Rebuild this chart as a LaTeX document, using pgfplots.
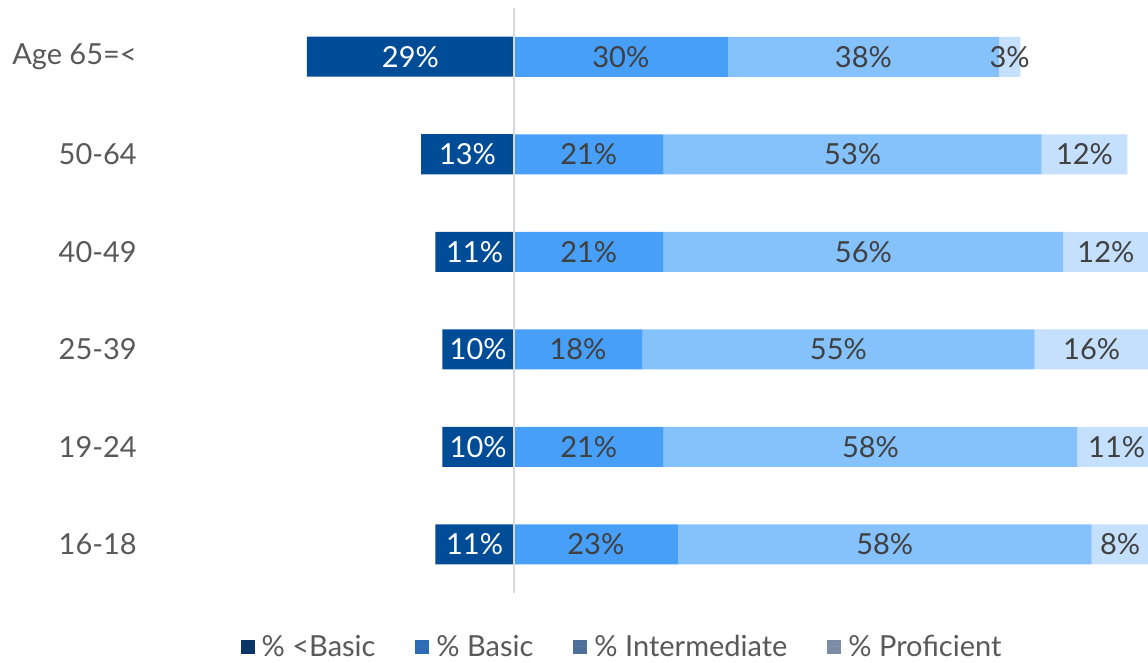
\documentclass[border=0pt]{standalone}
\usepackage{pgfplots}
\pgfplotsset{compat=1.18}
\usepackage{fontspec}
\setmainfont{Lato}
\definecolor{cBelow}{HTML}{004C97}
\definecolor{cBasic}{HTML}{479FF8}
\definecolor{cInt}{HTML}{85C1FA}
\definecolor{cProf}{HTML}{C5E0FC}
\definecolor{legA}{HTML}{0B3566}
\definecolor{legB}{HTML}{2D6CB5}
\definecolor{legC}{HTML}{4C6F9A}
\definecolor{legD}{HTML}{7B8CA4}
\definecolor{lblgray}{HTML}{404040}
\definecolor{tickgray}{HTML}{595959}
\definecolor{zerogray}{HTML}{D9D9D9}
\begin{document}
\begin{tikzpicture}[x=1pt,y=1pt]
\path[use as bounding box] (0,0) rectangle (1148,662);
\pgfplotsset{common/.style={at={(150pt,69pt)}, anchor=south west, scale only axis,
  width=998pt, height=585pt, xmin=-51, xmax=88.9, ymin=-0.5, ymax=5.5}}
\begin{axis}[common, xbar stacked, bar width=40pt,
  axis line style={draw=none}, xtick=\empty,
  ytick={0,...,5}, yticklabels={16-18,19-24,25-39,40-49,50-64,Age 65=<},
  major tick length=0pt,
  yticklabel style={font=\fontsize{29}{34}\selectfont, text=tickgray, inner sep=0pt, xshift=-13pt},
  legend columns=4,
  legend style={at={(0.473,-0.092)}, anchor=center, draw=none,
    font=\fontsize{29}{34}\selectfont, text=tickgray,
    /tikz/every even column/.append style={column sep=38pt}},
  legend cell align=left]
\addlegendimage{draw=none, legend image code/.code={\fill[legA] (0pt,-7pt) rectangle (14pt,7pt); \path[draw=none] (0pt,0pt) -- (19pt,0pt);}}
\addlegendentry{\% <Basic}
\addplot[fill=cBasic, draw=none, legend image code/.code={\fill[legB] (0pt,-7pt) rectangle (14pt,7pt); \path[draw=none] (0pt,0pt) -- (19pt,0pt);}]
  coordinates {(23,0) (21,1) (18,2) (21,3) (21,4) (30,5)};
\addlegendentry{\% Basic}
\addplot[fill=cInt, draw=none, legend image code/.code={\fill[legC] (0pt,-7pt) rectangle (14pt,7pt); \path[draw=none] (0pt,0pt) -- (19pt,0pt);}]
  coordinates {(58,0) (58,1) (55,2) (56,3) (53,4) (38,5)};
\addlegendentry{\% Intermediate}
\addplot[fill=cProf, draw=none, legend image code/.code={\fill[legD] (0pt,-7pt) rectangle (14pt,7pt); \path[draw=none] (0pt,0pt) -- (19pt,0pt);}]
  coordinates {(8,0) (11,1) (16,2) (12,3) (12,4) (3,5)};
\addlegendentry{\% Proficient}
\end{axis}
\begin{axis}[common, axis line style={draw=none}, xtick={0}, xticklabels={}, ytick=\empty,
  xmajorgrids, major grid style={draw=zerogray, line width=2pt}, major tick length=0pt, clip=false,
  axis on top]
\addplot[xbar, bar width=40pt, bar shift=0pt, fill=cBelow, draw=none]
  coordinates {(-11,0) (-10,1) (-10,2) (-11,3) (-13,4) (-29,5)};
\addplot[draw=none, mark=none, nodes near coords, point meta=explicit symbolic,
  every node near coord/.append style={anchor=center, text=white, font=\fontsize{29}{34}\selectfont}]
  coordinates {(-5.5,0) [11\%] (-5,1) [10\%] (-5,2) [10\%] (-5.5,3) [11\%] (-6.5,4) [13\%] (-14.5,5) [29\%]};
\addplot[draw=none, mark=none, nodes near coords, point meta=explicit symbolic,
  every node near coord/.append style={anchor=center, text=lblgray, font=\fontsize{29}{34}\selectfont}]
  coordinates {(11.5,0) [23\%] (10.5,1) [21\%] (9,2) [18\%] (10.5,3) [21\%] (10.5,4) [21\%] (15,5) [30\%]
  (52,0) [58\%] (50,1) [58\%] (45.5,2) [55\%] (49,3) [56\%] (47.5,4) [53\%] (49,5) [38\%]
  (85,0) [8\%] (84.5,1) [11\%] (81,2) [16\%] (83,3) [12\%] (80,4) [12\%] (69.5,5) [3\%]};
\end{axis}
\end{tikzpicture}
\end{document}
